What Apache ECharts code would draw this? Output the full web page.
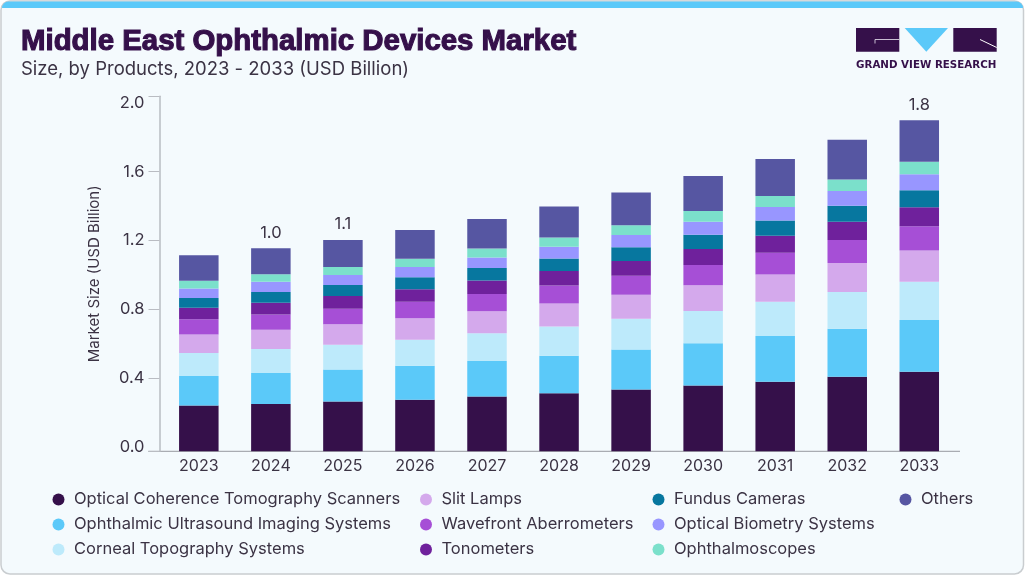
<!DOCTYPE html>
<html>
<head>
<meta charset="utf-8">
<style>
  html, body { margin: 0; padding: 0; background: #ffffff; }
  #chart { width: 1025px; height: 576px; }
</style>
<script src="https://cdn.jsdelivr.net/npm/echarts@6/dist/echarts.min.js"></script>
</head>
<body>
<div id="chart"></div>
<script>
const years = ['2023', '2024', '2025', '2026', '2027', '2028', '2029', '2030', '2031', '2032', '2033'];
const octScanners = [0.266, 0.275, 0.289, 0.300, 0.318, 0.337, 0.359, 0.382, 0.405, 0.434, 0.463];
const ultrasound = [0.172, 0.180, 0.186, 0.198, 0.207, 0.219, 0.233, 0.246, 0.266, 0.279, 0.300];
const topography = [0.134, 0.140, 0.145, 0.151, 0.161, 0.169, 0.178, 0.188, 0.198, 0.213, 0.223];
const slitLamps = [0.107, 0.112, 0.118, 0.124, 0.128, 0.134, 0.140, 0.149, 0.159, 0.169, 0.182];
const wavefront = [0.089, 0.089, 0.091, 0.097, 0.101, 0.105, 0.110, 0.118, 0.126, 0.134, 0.141];
const tonometers = [0.066, 0.068, 0.074, 0.072, 0.078, 0.085, 0.087, 0.093, 0.099, 0.105, 0.110];
const fundus = [0.058, 0.062, 0.064, 0.070, 0.072, 0.072, 0.079, 0.083, 0.089, 0.093, 0.099];
const biometry = [0.054, 0.060, 0.058, 0.060, 0.062, 0.068, 0.072, 0.076, 0.079, 0.087, 0.093];
const ophthalmoscopes = [0.045, 0.043, 0.047, 0.048, 0.052, 0.054, 0.056, 0.062, 0.064, 0.066, 0.072];
const others = [0.149, 0.151, 0.157, 0.167, 0.172, 0.180, 0.190, 0.203, 0.215, 0.231, 0.242];
const totalLabels = ['', '1.0', '1.1', '', '', '', '', '', '', '', '1.8'];
const yTickLabels = [0, 0.4, 0.8, 1.2, 1.6, 2.0];

const seriesNames = [
  'Optical Coherence Tomography Scanners', 'Ophthalmic Ultrasound Imaging Systems', 'Corneal Topography Systems',
  'Slit Lamps', 'Wavefront Aberrometers', 'Tonometers',
  'Fundus Cameras', 'Optical Biometry Systems', 'Ophthalmoscopes',
  'Others'
];
const seriesValues = [octScanners, ultrasound, topography, slitLamps, wavefront, tonometers, fundus, biometry, ophthalmoscopes, others];
const seriesColors = ['#35104a', '#5bc9f9', '#bdeafb', '#d4a9ec', '#a64fd6', '#6f219c', '#07779f', '#9896ff', '#7be0cb', '#5656a2'];

const FONT = 'Inter, "Noto Sans", sans-serif';
const TEXT = '#3b3344';
const DARK = '#35104a';
const AXIS = '#b9bcc2';

// the printed axis runs a little past 0 and 2.0 at both ends
const axisMin = -0.026;
const axisMax = 2.038;

function legendColumn(left, names) {
  return {
    left: left, top: 486, orient: 'vertical', icon: 'circle',
    itemWidth: 21, itemHeight: 12, itemGap: 8,
    data: names,
    textStyle: { fontFamily: FONT, fontSize: 16.5, lineHeight: 16, color: TEXT }
  };
}

const chart = echarts.init(document.getElementById('chart'), null, { renderer: 'canvas' });
chart.setOption({
  animation: false,
  backgroundColor: '#ffffff',
  title: [
    { text: 'Middle East Ophthalmic Devices Market', left: 21, top: 27.5, padding: 0,
      textStyle: { fontFamily: '"Liberation Sans", sans-serif', fontSize: 29.4, fontWeight: 'bold', color: DARK,
        textBorderColor: DARK, textBorderWidth: 1.1 } },
    { text: 'Size, by Products, 2023 - 2033 (USD Billion)', left: 21, top: 60, padding: 0,
      textStyle: { fontFamily: FONT, fontSize: 18.5, fontWeight: 'normal', color: TEXT } }
  ],
  legend: [
    legendColumn(47.5, seriesNames.slice(0, 3)),
    legendColumn(415, seriesNames.slice(3, 6)),
    legendColumn(647.5, seriesNames.slice(6, 9)),
    legendColumn(894.5, seriesNames.slice(9))
  ],
  grid: { left: 162.8, width: 792.5, top: 96.3, height: 355, containLabel: false },
  xAxis: {
    type: 'category', data: years,
    axisLine: { show: false }, axisTick: { show: false },
    axisLabel: { fontFamily: FONT, fontSize: 16, color: TEXT, margin: 7 }
  },
  yAxis: [
    // bars sit on this one, it starts on the baseline
    { type: 'value', min: 0, max: 2.064, show: false },
    {
      type: 'value', min: axisMin, max: axisMax, offset: 3.3, position: 'left',
      name: 'Market Size (USD Billion)', nameLocation: 'middle', nameGap: 58,
      nameTextStyle: { fontFamily: FONT, fontSize: 15, color: TEXT },
      splitLine: { show: false },
      axisLine: { show: true, lineStyle: { color: AXIS, width: 1.5 } },
      axisTick: { show: true, length: 11, lineStyle: { color: AXIS, width: 1 },
        customValues: [axisMin, 0.4, 0.8, 1.2, 1.6, axisMax] },
      axisLabel: { fontFamily: FONT, fontSize: 16.5, color: TEXT, margin: 15,
        customValues: yTickLabels, formatter: (v) => v.toFixed(1) }
    }
  ],
  series: seriesNames.map((name, i) => ({
    name: name, type: 'bar', stack: 'total', yAxisIndex: 0,
    barWidth: 39.5, data: seriesValues[i],
    itemStyle: { color: seriesColors[i] },
    label: i === seriesNames.length - 1 ? {
      show: true, position: 'top', distance: 7,
      fontFamily: FONT, fontSize: 16.5, color: TEXT,
      formatter: (p) => totalLabels[p.dataIndex]
    } : { show: false }
  })),
  graphic: [
    // card and top strip go behind the plot
    { type: 'rect', z: -10, silent: true, shape: { x: 1, y: 1, width: 1022.5, height: 573, r: 9 },
      style: { fill: '#f4fafd', stroke: '#c9cdd0', lineWidth: 1.5 } },
    { type: 'rect', z: -9, silent: true, shape: { x: 2, y: 1.5, width: 1021, height: 6.5, r: [8, 8, 0, 0] },
      style: { fill: '#5bc9f9' } },
    // baseline runs across the whole plot, wider than the category bands
    { type: 'line', silent: true, shape: { x1: 148.3, y1: 451.3, x2: 960, y2: 451.3 },
      style: { stroke: '#a9acb2', lineWidth: 1.2 } },
    // logo
    { type: 'rect', silent: true, shape: { x: 856, y: 28, width: 43.3, height: 23.7 }, style: { fill: DARK } },
    { type: 'polygon', silent: true, shape: { points: [[904.7, 28], [948, 28], [926.3, 51.7]] }, style: { fill: '#5bc9f9' } },
    { type: 'rect', silent: true, shape: { x: 953.3, y: 28, width: 43.4, height: 23.7 }, style: { fill: DARK } },
    { type: 'polyline', silent: true, shape: { points: [[875, 43.5], [875, 39.5], [899.3, 39.5]] },
      style: { fill: 'none', stroke: '#d9d3e2', lineWidth: 0.9 } },
    { type: 'line', silent: true, shape: { x1: 980, y1: 39.5, x2: 996.7, y2: 47.5 },
      style: { stroke: '#ffffff', lineWidth: 1 } },
    { type: 'text', silent: true, style: { x: 856, y: 60, text: 'GRAND VIEW RESEARCH',
      fontFamily: '"DejaVu Sans", sans-serif', fontSize: 10.3, fontWeight: 'bold', fill: DARK } }
  ]
});
</script>
</body>
</html>
